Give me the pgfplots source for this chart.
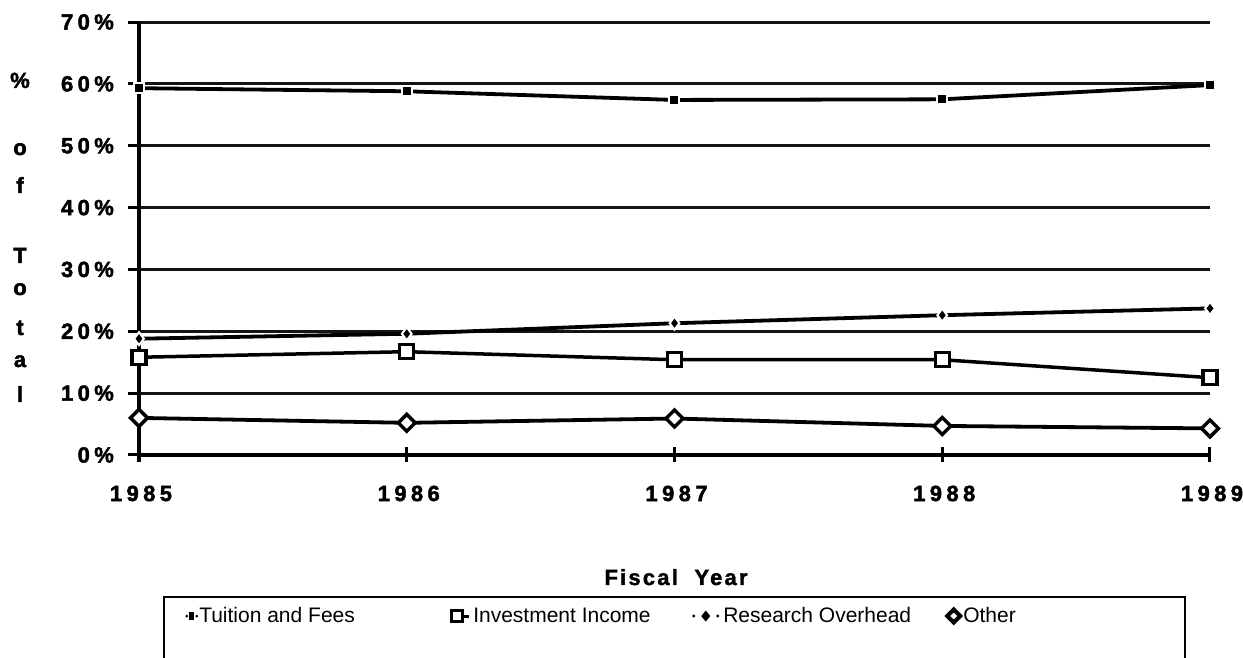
\documentclass[border=0pt]{standalone}
\usepackage{pgfplots}
\pgfplotsset{compat=1.18}
\usepackage{fontspec}
\setmainfont{Liberation Sans}
\newfontfamily\tickfont{Liberation Sans}[UprightFont={* Bold}, LetterSpace=20, FakeBold=2]
\newfontfamily\fyfont{Liberation Sans}[UprightFont={* Bold}, LetterSpace=10, FakeBold=1.5]
\DeclareRobustCommand{\tickf}{\tickfont\fontsize{22bp}{26bp}\selectfont}
\DeclareRobustCommand{\tl}[1]{\mbox{\tickf #1}}
\newcommand{\legf}{\fontsize{21bp}{25bp}\selectfont}

\begin{document}
\begin{tikzpicture}[x=1bp,y=1bp]
\begin{axis}[
  at={(139bp,203bp)}, anchor=south west,
  scale only axis, width=1071bp, height=433bp,
  xmin=1985, xmax=1989, ymin=0, ymax=70,
  clip=false,
  axis x line=bottom, axis y line=left,
  axis line style={line width=3.2bp, -},
  xtick={1985,1986,1987,1988,1989},
  xticklabels={\tl{1985},\tl{1986},\tl{1987},\tl{1988},\tl{1989}},
  ytick={0,10,20,30,40,50,60,70},
  yticklabels={\tl{0\%},\tl{10\%},\tl{20\%},\tl{30\%},\tl{40\%},\tl{50\%},\tl{60\%},\tl{70\%}},
  /pgf/number format/assume math mode=true,
  xtick align=center, ytick align=outside,
  major tick length=13bp,
  tick style={line width=3bp, black},
  xtick style={/pgfplots/major tick length=15bp},
  ytick style={/pgfplots/major tick length=11bp},
  xticklabel style={font=\tickf, anchor=north, inner sep=0pt, yshift=-24bp, xshift=2bp},
  yticklabel style={font=\tickf, anchor=east, inner sep=0pt, xshift=-12bp},
  ymajorgrids,
  grid style={line width=3bp, black!92},
  legend columns=4,
  legend cell align=left,
  legend style={at={(axis description cs:0.0430,-0.372)}, anchor=west,
    draw=none, fill=none, inner sep=0pt, row sep=0pt, column sep=0pt,
    nodes={inner sep=0pt, font=\legf}},
]
% Tuition and Fees
\addplot[black, line width=3.8bp, mark=square*,
  mark size=5bp, mark options={draw=white, fill=black, line width=2bp},
  legend image code/.code={
    \path[draw=none, fill=none] (0bp,0bp) rectangle (13bp,1bp);
    \fill[black, draw=none] (1.5bp,0bp) circle (1.5bp);
    \fill[black, draw=none] (4.2bp,-4bp) rectangle (8.8bp,4bp);
    \fill[black, draw=none] (11.5bp,0bp) circle (1.5bp);
  }]
  coordinates {(1985,59.3) (1986,58.8) (1987,57.4) (1988,57.5) (1989,59.8)};
\addlegendentry{\makebox[250bp][l]{\hspace{1bp}Tuition and Fees}}
% Investment Income
\addplot[black, line width=3.5bp, mark=square*,
  mark size=7bp, mark options={draw=black, fill=white, line width=3.4bp},
  legend image code/.code={
    \path[draw=none, fill=none] (0bp,0bp) rectangle (23bp,1bp);
    \draw[line width=3bp] (9bp,0bp) -- (21bp,0bp);
    \draw[line width=3.5bp, fill=white] (3bp,-5.5bp) rectangle (14bp,5.5bp);
  }]
  coordinates {(1985,15.8) (1986,16.7) (1987,15.4) (1988,15.4) (1989,12.5)};
\addlegendentry{\makebox[219bp][l]{\hspace{2bp}Investment Income}}
% Research Overhead
\addplot[black, line width=3.8bp, mark=diamond*,
  mark size=6.5bp, mark options={draw=white, fill=black, line width=2bp},
  legend image code/.code={
    \path[draw=none, fill=none] (0bp,0bp) rectangle (31bp,1bp);
    \fill[black, draw=none] (3.5bp,0bp) circle (1.6bp);
    \fill[black, draw=none] (15.5bp,-5.5bp) -- (20bp,0bp) -- (15.5bp,5.5bp) -- (11bp,0bp) -- cycle;
    \fill[black, draw=none] (27.5bp,0bp) circle (1.6bp);
  }]
  coordinates {(1985,18.8) (1986,19.6) (1987,21.3) (1988,22.6) (1989,23.7)};
\addlegendentry{\makebox[223bp][l]{\hspace{2bp}Research Overhead}}
% Other
\addplot[black, line width=3.8bp, mark=square*,
  mark size=6bp, mark options={draw=black, fill=white, line width=3.4bp, rotate=45},
  legend image code/.code={
    \path[draw=none, fill=none] (0bp,0bp) rectangle (19bp,1bp);
    \draw[line width=4bp, fill=white] (9.5bp,-6.5bp) -- (16bp,0bp) -- (9.5bp,6.5bp) -- (3bp,0bp) -- cycle;
  }]
  coordinates {(1985,6.0) (1986,5.2) (1987,5.9) (1988,4.7) (1989,4.3)};
\addlegendentry{\makebox[60bp][l]{Other}}
\end{axis}
% y-axis label, stacked letters
\begin{scope}[every node/.style={font=\tickf, anchor=base, inner sep=0pt}]
  \node at (20bp,570bp) {\%};
  \node at (20bp,503bp) {o};
  \node at (20bp,465bp) {f};
  \node at (20bp,395bp) {T};
  \node at (20bp,363bp) {o};
  \node at (20bp,323bp) {t};
  \node at (20bp,291bp) {a};
  \node at (20bp,256bp) {l};
\end{scope}
\node[font=\fyfont\fontsize{22bp}{26bp}\selectfont, anchor=base, inner sep=0pt] at (676bp,73bp) {Fiscal\ \ Year};
% legend frame
\draw[line width=2.5bp] (164bp,-20bp) -- (164bp,61bp) -- (1185bp,61bp) -- (1185bp,-20bp);
\pgfresetboundingbox
\useasboundingbox (0bp,0bp) rectangle (1243bp,658bp);
\end{tikzpicture}
\end{document}
